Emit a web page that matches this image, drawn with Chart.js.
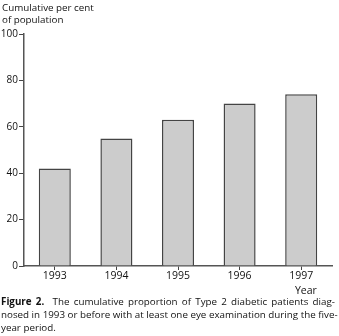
<!DOCTYPE html>
<html><head><meta charset="utf-8">
<script src="https://cdn.jsdelivr.net/npm/chart.js@4"></script>
<style>
html,body{margin:0;padding:0;background:#fff;width:339px;height:336px;overflow:hidden;font-family:"Open Sans",sans-serif;color:#111;}
#wrap{position:absolute;left:0;top:0;width:339px;height:290px;}
.t{position:absolute;white-space:nowrap;}
#ytitle{left:2px;top:2px;font-size:9.8px;line-height:12px;}
#xtitle{left:295px;top:284px;font-size:10.5px;line-height:12px;}
#cap{left:1px;top:295px;width:334px;font-size:9.8px;line-height:13px;}
#cap div{text-align:justify;text-align-last:justify;}
#cap div.last{text-align-last:left;}
</style></head><body>
<div id="wrap"><canvas id="c" width="339" height="290"></canvas></div>
<div class="t" id="ytitle">Cumulative per cent<br>of population</div>
<div class="t" id="xtitle">Year</div>
<div class="t" id="cap"><div><b>Figure 2.</b>&nbsp; The cumulative proportion of Type 2 diabetic patients diag-</div><div>nosed in 1993 or before with at least one eye examination during the five-</div><div class="last">year period.</div></div>
<script>
const categories = ["1993","1994","1995","1996","1997"];
const values = [42, 55, 63, 70, 74];
const yTicks = [0,20,40,60,80,100];

new Chart(document.getElementById('c'), {
  type: 'bar',
  data: { labels: categories, datasets: [{ data: values, backgroundColor: '#cccccc', borderColor: '#444444', borderWidth: 1.5, categoryPercentage: 1, barPercentage: 0.52 }] },
  options: {
    responsive: false, animation: false, devicePixelRatio: 1,
    layout: { padding: { top: 34, right: 7, left: 0, bottom: 0 } },
    plugins: { legend: { display: false }, tooltip: { enabled: false } },
    scales: {
      x: {
        grid: { display: true, drawOnChartArea: false, drawTicks: true, tickLength: 4, color: '#444', offset: false },
        border: { color: '#555', width: 1.5 },
        ticks: { color: '#111', font: { family: 'Open Sans', size: 10.5 }, padding: 0, maxRotation: 0 },
        afterFit: s => { s.height = 24; }
      },
      y: {
        min: 0, max: 100,
        afterBuildTicks: s => { s.ticks = yTicks.map(v => ({ value: v })); },
        grid: { display: true, drawOnChartArea: false, drawTicks: true, tickLength: 5, color: '#444' },
        border: { color: '#555', width: 1.5 },
        ticks: { color: '#111', font: { family: 'Open Sans', size: 10 }, padding: 1 },
        afterFit: s => { s.width = 24; }
      }
    }
  }
});
</script>
</body></html>
